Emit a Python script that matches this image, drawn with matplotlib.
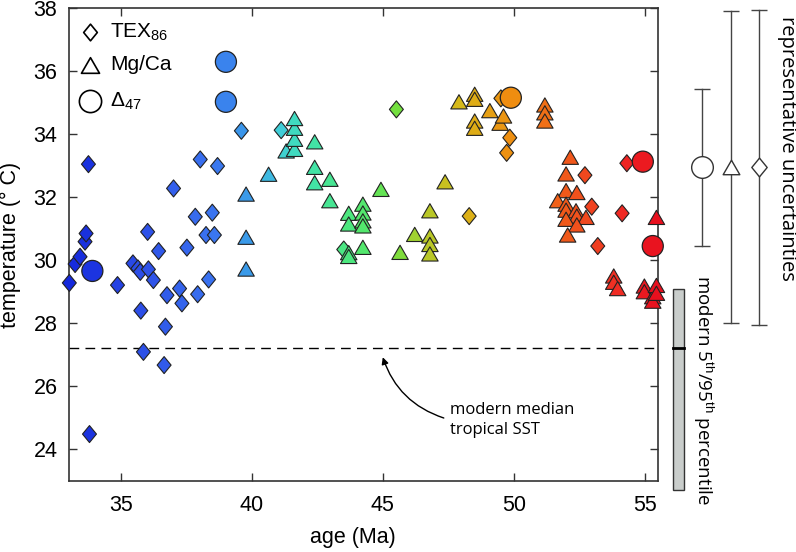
import numpy as np
import matplotlib
matplotlib.use("Agg")
import matplotlib.pyplot as plt
from matplotlib.path import Path
from matplotlib.colors import LinearSegmentedColormap, Normalize

plt.rcParams['font.family'] = ['Liberation Sans', 'DejaVu Sans']
plt.rcParams['mathtext.fontset'] = 'custom'
plt.rcParams['mathtext.rm'] = 'Liberation Sans'
plt.rcParams['mathtext.it'] = 'Liberation Sans:italic'
plt.rcParams['mathtext.bf'] = 'Liberation Sans:bold'

# TEX86 (diamonds)
tex_age = [33.03, 33.25, 33.44, 33.63, 33.67, 33.76, 33.80, 34.87, 35.46, 35.65,
           35.74, 35.76, 35.86, 36.02, 36.05, 36.24, 36.44, 36.65, 36.70, 36.76,
           37.01, 37.24, 37.33, 37.52, 37.84, 37.93, 38.03, 38.25, 38.35, 38.49,
           38.57, 38.69, 39.60, 41.12, 43.51, 45.52, 48.30, 49.51, 49.73, 49.85,
           52.72, 52.98, 53.21, 54.14, 54.32]
tex_temp = [29.28, 29.88, 30.11, 30.59, 30.85, 33.05, 24.48, 29.21, 29.90, 29.74,
            29.63, 28.40, 27.09, 30.90, 29.71, 29.37, 30.29, 26.67, 27.89, 28.89,
            32.28, 29.10, 28.63, 30.40, 31.38, 28.92, 33.20, 30.80, 29.39, 31.51,
            30.80, 32.99, 34.11, 34.13, 30.34, 34.79, 31.40, 35.14, 33.41, 33.89,
            32.70, 31.70, 30.45, 31.49, 33.08]

# Mg/Ca (triangles)
mgca_age = [39.78, 39.78, 39.78, 40.64, 41.31, 41.63, 41.63, 41.63, 41.63, 42.40,
            42.40, 42.40, 42.98, 42.98, 43.70, 43.70, 43.70, 43.70, 44.24, 44.24,
            44.24, 44.24, 44.24, 44.93, 45.66, 46.22, 46.80, 46.80, 46.80, 46.80,
            47.38, 47.91, 48.51, 48.51, 48.51, 48.51, 49.09, 49.48, 49.61, 51.19,
            51.19, 51.19, 52.16, 52.00, 52.00, 52.41, 51.68, 52.00, 52.00, 52.38,
            52.41, 52.00, 52.76, 52.41, 52.06, 53.82, 53.82, 53.97, 54.99, 54.99,
            55.31, 55.31, 55.45, 55.45, 55.45]
mgca_temp = [32.10, 30.73, 29.72, 32.73, 33.47, 33.52, 33.84, 34.19, 34.50, 33.76,
             32.95, 32.46, 32.57, 31.89, 31.49, 31.15, 30.24, 30.12, 31.78, 31.50,
             31.25, 31.09, 30.41, 32.25, 30.25, 30.82, 31.57, 30.77, 30.50, 30.20,
             32.49, 35.03, 35.27, 35.11, 34.42, 34.19, 34.75, 34.35, 34.58, 34.93,
             34.68, 34.42, 33.27, 32.74, 32.21, 32.15, 31.89, 31.78, 31.59, 31.57,
             31.40, 31.30, 31.36, 31.12, 30.80, 29.50, 29.30, 29.10, 29.18, 29.00,
             28.84, 28.70, 29.20, 28.95, 31.36]

# clumped isotopes (circles)
d47_age = [33.91, 39.01, 39.01, 49.89, 54.93, 55.31]
d47_temp = [29.66, 36.30, 35.03, 35.16, 33.13, 30.45]

modern_median = 27.2
modern_p5, modern_p95 = 22.7, 29.1
unc_center = 32.95
unc_halfwidth = [2.5, 4.95, 5.0]   # circle, triangle, diamond

# colour by age
anchors = [(33, '#1428dc'), (36, '#2e52e8'), (38.5, '#3a74f0'), (40, '#3aa0e8'),
           (41, '#40cadc'), (42, '#40e2b0'), (44, '#4ee874'), (45.5, '#72e040'),
           (46.5, '#b0cc2c'), (48, '#d8b818'), (50, '#f08c10'), (52, '#f05a1a'),
           (54, '#f02c24'), (55.5, '#e8101e')]
cmap = LinearSegmentedColormap.from_list('age', [((a - 33) / 22.5, c) for a, c in anchors])
norm = Normalize(33, 55.5)

diamond = Path([(0, 1), (0.82, 0), (0, -1), (-0.82, 0), (0, 1)],
               [Path.MOVETO, Path.LINETO, Path.LINETO, Path.LINETO, Path.CLOSEPOLY])
triangle = Path([(-1, -0.866), (1, -0.866), (0, 0.866), (-1, -0.866)],
                [Path.MOVETO, Path.LINETO, Path.LINETO, Path.CLOSEPOLY])

fig = plt.figure(figsize=(7.96, 5.52), dpi=100)
ax = fig.add_axes([0.0861, 0.1292, 0.7402, 0.8558])

ax.axhline(modern_median, color='k', lw=1, ls=(0, (7, 4.5)), zorder=1)

ax.scatter(tex_age, tex_temp, c=tex_age, cmap=cmap, norm=norm, marker=diamond, s=150,
           edgecolors='#222222', linewidths=0.8, zorder=3, clip_on=False)
ax.scatter(mgca_age, mgca_temp, c=mgca_age, cmap=cmap, norm=norm, marker=triangle, s=140,
           edgecolors='#222222', linewidths=0.8, zorder=4, clip_on=False)
ax.scatter(d47_age, d47_temp, c=d47_age, cmap=cmap, norm=norm, marker='o', s=230,
           edgecolors='#222222', linewidths=0.9, zorder=5, clip_on=False)

ax.set_xlim(33, 55.5)
ax.set_ylim(23, 38)
ax.set_xticks([35, 40, 45, 50, 55])
ax.set_yticks([24, 26, 28, 30, 32, 34, 36, 38])
ax.tick_params(direction='in', length=6, width=1, top=True, right=True,
               labelsize=15.5, colors='#333333', labelcolor='k')
ax.tick_params(axis='x', pad=10)
ax.tick_params(axis='y', pad=8)
for s in ax.spines.values():
    s.set_color('#333333')
    s.set_linewidth(1.2)

ax.set_xlabel('age (Ma)', fontsize=15.5)
ax.set_ylabel('temperature (° C)', fontsize=15.5)
ax.xaxis.set_label_coords(0.483, -0.098)
ax.yaxis.set_label_coords(-0.08, 0.5)

# legend
leg_y = [0.95, 0.88, 0.804]
leg_marks = [(diamond, 12), (triangle, 13), ('o', 16)]
leg_text = ['TEX$_{86}$', 'Mg/Ca', 'Δ$_{47}$']
for yy, (m, ms), t in zip(leg_y, leg_marks, leg_text):
    ax.plot([0.0365], [yy], marker=m, ms=ms, mfc='white', mec='k', mew=1.2,
            transform=ax.transAxes, ls='none', zorder=6)
    ax.text(0.07, yy, t, transform=ax.transAxes, fontsize=15, va='center', ha='left')

# modern percentile bar
trans = ax.get_yaxis_transform()
ax.add_patch(plt.Rectangle((1.026, modern_p5), 0.019, modern_p95 - modern_p5,
                           transform=trans, facecolor='#c9cdcb', edgecolor='#333333',
                           lw=1, clip_on=False))
ax.plot([1.026, 1.045], [modern_median, modern_median], color='k', lw=2,
        transform=trans, clip_on=False)
ax.text(1.077, 25.87, 'modern 5$^{\\mathrm{th}}$/95$^{\\mathrm{th}}$ percentile',
        transform=trans, rotation=270, ha='center', va='center', fontsize=13.5,
        family=['Open Sans', 'DejaVu Sans'])

# representative uncertainties
unc_x = [1.075, 1.124, 1.172]
unc_marks = [('o', 15.6), (triangle, 12), (diamond, 13.5)]
for xx, hw, (m, ms) in zip(unc_x, unc_halfwidth, unc_marks):
    ax.plot([xx, xx], [unc_center - hw, unc_center + hw], color='#444444', lw=1,
            transform=trans, clip_on=False)
    ax.plot([xx, xx], [unc_center - hw, unc_center + hw], ls='none', marker='_', ms=11,
            mew=1, color='#444444', transform=trans, clip_on=False)
    ax.plot([xx], [unc_center], marker=m, ms=ms, mfc='white', mec='#333333', mew=1,
            ls='none', transform=trans, clip_on=False, zorder=6)
ax.text(1.219, 33.55, 'representative uncertainties', transform=trans, rotation=270,
        ha='center', va='center', fontsize=14.5, family=['Open Sans', 'DejaVu Sans'])

# median annotation
ax.annotate('', xy=(45.0, 26.92), xytext=(47.33, 24.99),
            arrowprops=dict(arrowstyle='-|>', color='k', lw=1, mutation_scale=10,
                            connectionstyle='arc3,rad=-0.25', shrinkA=0, shrinkB=0))
ax.text(47.56, 24.92, 'modern median\ntropical SST', fontsize=12, ha='left', va='center',
        linespacing=1.35, family=['Open Sans', 'DejaVu Sans'])

fig.savefig('out.png', dpi=100)
